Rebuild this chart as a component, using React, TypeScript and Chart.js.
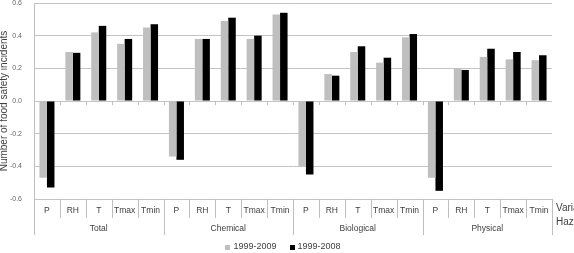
import React, { useEffect, useRef } from "react";
import { Chart, registerables } from "chart.js";

Chart.register(...registerables);

const groups = ["Total", "Chemical", "Biological", "Physical"];
const variables = ["P", "RH", "T", "Tmax", "Tmin"];
const seriesNames = ["1999-2009", "1999-2008"];
const values1999_2009 = [
  -0.47, 0.3, 0.42, 0.35, 0.45,
  -0.34, 0.38, 0.49, 0.38, 0.53,
  -0.4, 0.165, 0.3, 0.235, 0.39,
  -0.47, 0.2, 0.27, 0.255, 0.25,
];
const values1999_2008 = [
  -0.53, 0.295, 0.46, 0.38, 0.47,
  -0.36, 0.38, 0.51, 0.4, 0.54,
  -0.45, 0.155, 0.335, 0.265, 0.41,
  -0.55, 0.19, 0.32, 0.3, 0.28,
];
const yMin = -0.6;
const yMax = 0.6;
const yStep = 0.2;
const yTitle = "Number of food safety incidents";
const xTitles = ["Variable", "Hazard"];

const categoryLabels = groups.flatMap(() => variables);
const seriesColors = ["#bfbfbf", "#000000"];
const FONT = "'Liberation Sans', Arial, sans-serif";

const multiAxisPlugin = {
  id: "multiAxis",
  afterDraw(chart: any) {
    const { ctx, chartArea, scales } = chart;
    const x = scales.x;
    const y = scales.y;
    const n = categoryLabels.length;
    const w = x.getPixelForValue(1) - x.getPixelForValue(0);
    const yZero = y.getPixelForValue(0);
    const bottom = chartArea.bottom;
    ctx.save();
    ctx.strokeStyle = "#bfbfbf";
    ctx.lineWidth = 1;
    for (let i = 0; i <= n; i++) {
      const bx = Math.round(x.getPixelForValue(i) - w / 2) + 0.5;
      const isGroup = i % variables.length === 0;
      ctx.beginPath();
      ctx.moveTo(bx, bottom);
      ctx.lineTo(bx, bottom + (isGroup ? 36 : 19));
      ctx.stroke();
      if (i > 0 && i < n) {
        ctx.beginPath();
        ctx.moveTo(bx, Math.round(yZero) + 0.5);
        ctx.lineTo(bx, Math.round(yZero) + 4);
        ctx.stroke();
      }
    }
    ctx.fillStyle = "#404040";
    ctx.textAlign = "center";
    ctx.textBaseline = "middle";
    ctx.font = `8.5px ${FONT}`;
    for (let i = 0; i < n; i++) {
      ctx.fillText(categoryLabels[i], x.getPixelForValue(i), bottom + 12);
    }
    groups.forEach((g, gi) => {
      const a = x.getPixelForValue(gi * variables.length);
      const b = x.getPixelForValue(gi * variables.length + variables.length - 1);
      ctx.fillText(g, (a + b) / 2, bottom + 30);
    });
    ctx.textAlign = "left";
    ctx.font = `10px ${FONT}`;
    ctx.fillText(xTitles[0], chartArea.right + 4, bottom + 9);
    ctx.fillText(xTitles[1], chartArea.right + 4, bottom + 23);

    // legend
    ctx.font = `9px ${FONT}`;
    const box = 5;
    const gapBoxText = 3;
    const gapItems = 13;
    const widths = seriesNames.map((s) => ctx.measureText(s).width);
    const total = widths.reduce((s, v) => s + v + box + gapBoxText, 0) + gapItems;
    let lx = chart.width / 2 - 4 - total / 2;
    const ly = bottom + 48;
    seriesNames.forEach((s, i) => {
      ctx.fillStyle = seriesColors[i];
      ctx.fillRect(Math.round(lx), Math.round(ly - box / 2), box, box);
      ctx.fillStyle = "#404040";
      ctx.fillText(s, lx + box + gapBoxText, ly);
      lx += box + gapBoxText + widths[i] + gapItems;
    });
    ctx.restore();
  },
};

export default function App() {
  const ref = useRef<HTMLCanvasElement | null>(null);
  useEffect(() => {
    if (!ref.current) return;
    const chart = new Chart(ref.current, {
      type: "bar",
      data: {
        labels: categoryLabels,
        datasets: [
          {
            label: seriesNames[0],
            data: values1999_2009,
            backgroundColor: seriesColors[0],
            categoryPercentage: 0.58,
            barPercentage: 1,
          },
          {
            label: seriesNames[1],
            data: values1999_2008,
            backgroundColor: seriesColors[1],
            categoryPercentage: 0.58,
            barPercentage: 1,
          },
        ],
      },
      options: {
        responsive: false,
        animation: false,
        devicePixelRatio: 1,
        layout: { padding: { top: 3, right: 22, bottom: 54, left: 0 } },
        plugins: {
          legend: { display: false },
          tooltip: { enabled: false },
        },
        scales: {
          x: { display: false },
          y: {
            min: yMin,
            max: yMax,
            ticks: {
              stepSize: yStep,
              padding: 12,
              color: "#666666",
              font: { family: FONT, size: 7 },
              callback: (v: any) => (Math.abs(Number(v)) < 1e-9 ? 0 : Number(v)).toFixed(1),
            },
            grid: { color: "#c4c4c4", drawTicks: false },
            border: { display: true, color: "#bfbfbf" },
            title: {
              display: true,
              text: yTitle,
              color: "#404040",
              font: { family: FONT, size: 10 },
              padding: { top: -2, bottom: 0 },
            },
            afterFit: (scale: any) => {
              scale.width = 34;
              scale.paddingTop = 0;
              scale.paddingBottom = 0;
            },
          },
        },
      },
      plugins: [multiAxisPlugin],
    });
    return () => chart.destroy();
  }, []);
  return (
    <div style={{ position: "fixed", left: 0, top: 0, width: 574, height: 253, background: "#fff" }}>
      <canvas ref={ref} width={574} height={253} />
    </div>
  );
}
